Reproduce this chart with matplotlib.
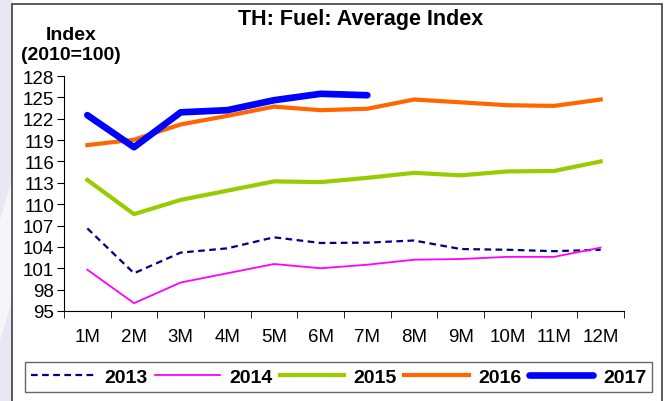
import matplotlib
matplotlib.use("Agg")
import matplotlib.pyplot as plt
from matplotlib.patches import Rectangle, Polygon

plt.rcParams["font.family"] = ["Liberation Sans", "DejaVu Sans"]

# data
months = ["1M", "2M", "3M", "4M", "5M", "6M", "7M", "8M", "9M", "10M", "11M", "12M"]
y2013 = [106.6, 100.3, 103.2, 103.8, 105.35, 104.55, 104.6, 104.9, 103.7, 103.6, 103.4, 103.6]
y2014 = [100.8, 96.1, 99.0, 100.3, 101.6, 101.0, 101.5, 102.2, 102.3, 102.6, 102.6, 103.9]
y2015 = [113.4, 108.6, 110.6, 111.9, 113.2, 113.1, 113.7, 114.4, 114.05, 114.6, 114.66, 116.0]
y2016 = [118.3, 119.05, 121.2, 122.4, 123.7, 123.2, 123.4, 124.7, 124.3, 123.9, 123.8, 124.7]
y2017 = [122.5, 118.0, 122.9, 123.2, 124.6, 125.5, 125.3]
yticks = list(range(95, 129, 3))

W, H = 667, 402
fig = plt.figure(figsize=(W / 100, H / 100), dpi=100)

# faint background strip on the left and the outer frame
fig.patches.append(Rectangle((0, 0), 12 / W, 1, transform=fig.transFigure,
                             facecolor="#e8e8f2", edgecolor="none", zorder=-2))
fig.patches.append(Polygon([(0, 0.15), (12 / W, 0.25), (12 / W, 0.55), (0, 0.45)],
                           closed=True, transform=fig.transFigure,
                           facecolor="#f6f6fa", edgecolor="none", zorder=-2))
fig.patches.append(Rectangle((12 / W, -0.05), 650 / W, 1 - 5 / H + 0.05,
                             transform=fig.transFigure, facecolor="white",
                             edgecolor="#404040", linewidth=1.2, zorder=-1))

ax = fig.add_axes([64 / W, 1 - 312 / H, 560 / W, 235 / H])
ax.set_zorder(2)
ax.set_facecolor("none")
x = range(len(months))

ax.plot(x, y2013, color="#000080", lw=1.6, ls=(0, (3, 2)), label="2013")
ax.plot(x, y2014, color="#ff00ff", lw=1.3, label="2014")
ax.plot(x, y2015, color="#99cc00", lw=3, label="2015")
ax.plot(x, y2016, color="#ff6600", lw=3, label="2016")
ax.plot(range(len(y2017)), y2017, color="#0000ff", lw=4.8,
        solid_capstyle="round", label="2017")

ax.set_xlim(-0.5, 11.5)
ax.set_ylim(95, 128)
ax.set_yticks(yticks)
ax.set_xticks(list(x))
ax.set_xticklabels(months)
ax.set_xticks([i - 0.5 for i in range(13)], minor=True)
ax.tick_params(axis="x", which="major", length=0, pad=12, labelsize=13.5)
ax.tick_params(axis="x", which="minor", length=5, direction="out")
ax.tick_params(axis="y", length=5, direction="out", labelsize=13.5, pad=2)
for s in ["top", "right"]:
    ax.spines[s].set_visible(False)

fig.text(361 / W, 1 - 20 / H, "TH: Fuel: Average Index", ha="center", va="center",
         fontsize=15.5, fontweight="bold")
fig.text(71 / W, 1 - 35 / H, "Index", ha="center", va="center",
         fontsize=14, fontweight="bold")
fig.text(71 / W, 1 - 56 / H, "(2010=100)", ha="center", va="center",
         fontsize=14, fontweight="bold")

leg = fig.legend(loc="center", bbox_to_anchor=(25 / W, 1 - 392 / H, 627 / W, 28 / H),
                 mode="expand", ncol=5, handlelength=3.3,
                 frameon=True, fancybox=False, borderaxespad=0, columnspacing=0.6,
                 handletextpad=0.5, borderpad=0.3,
                 prop={"weight": "bold", "size": 14})
leg.get_frame().set_edgecolor("#404040")
leg.get_frame().set_linewidth(1.0)

fig.savefig("out.png", dpi=100)
